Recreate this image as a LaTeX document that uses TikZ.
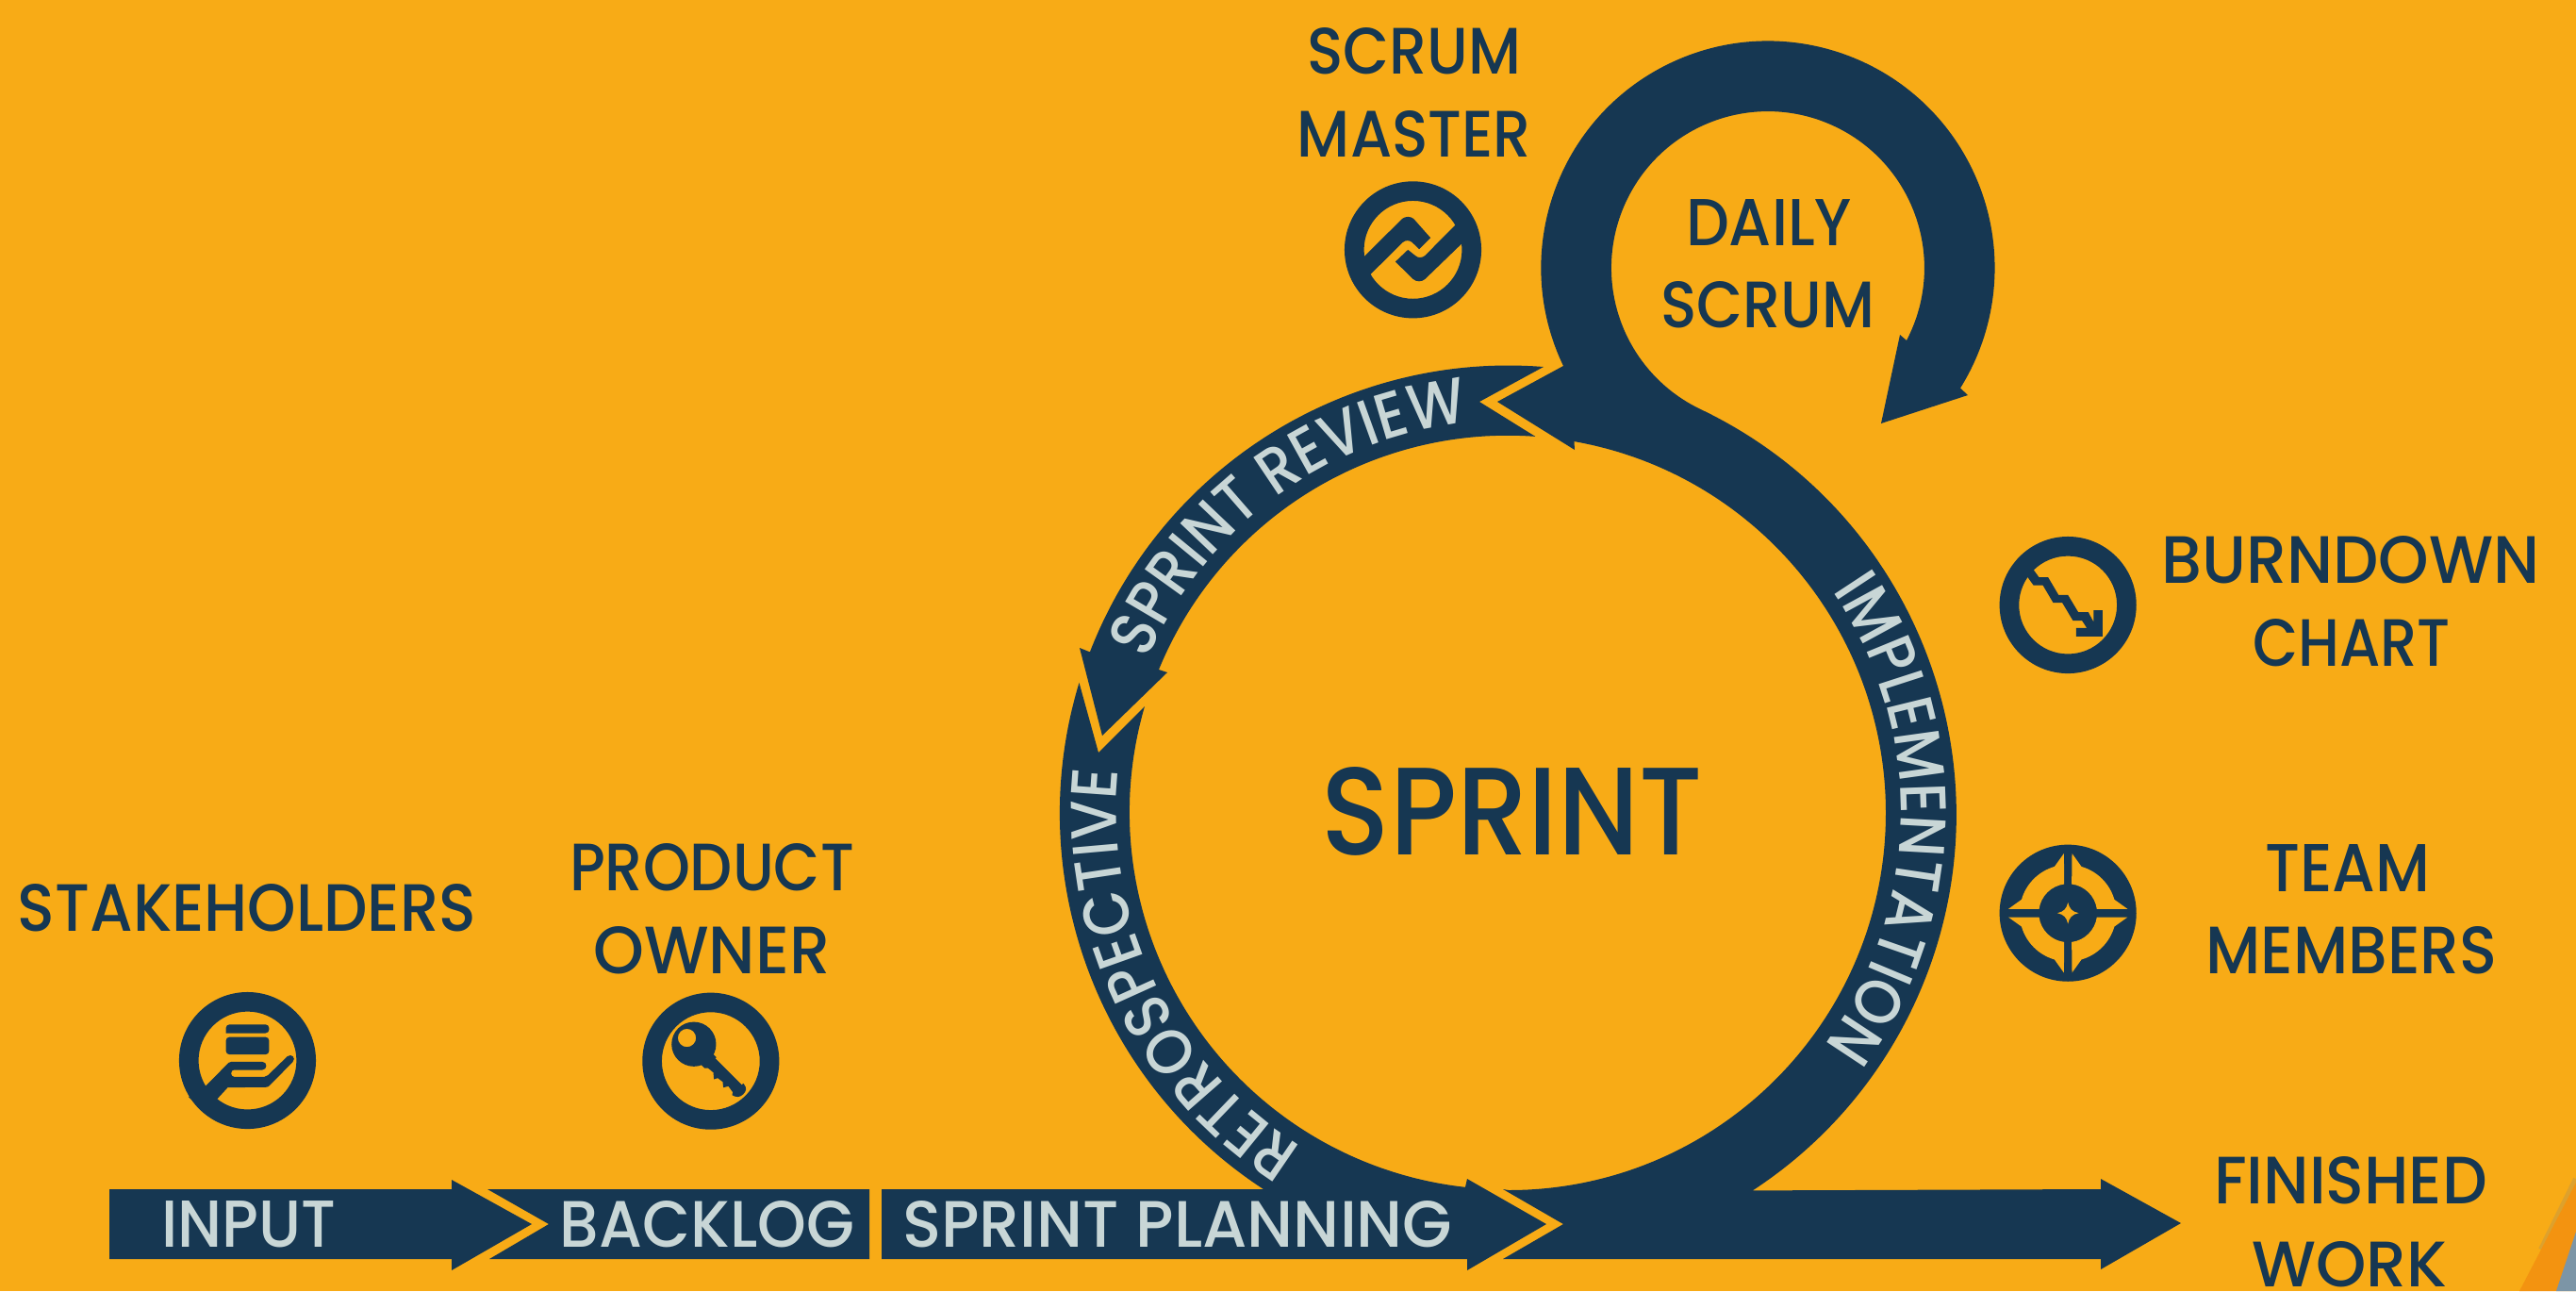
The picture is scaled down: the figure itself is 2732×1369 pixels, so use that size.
\documentclass[tikz,border=0pt]{standalone}
\usepackage{graphicx}
\usepackage{fontspec}
\setmainfont{Poppins Medium}
\newfontfamily\arcfont[FakeStretch=0.89]{Poppins Medium}
\usetikzlibrary{decorations.text}
\definecolor{bgorange}{HTML}{F8AB16}
\definecolor{darkorange}{HTML}{F39310}
\definecolor{navy}{HTML}{163752}
\definecolor{pale}{HTML}{C8D6D6}
\definecolor{slate}{HTML}{7C95A6}
\newcommand{\fit}[3]{\resizebox{#1\dimexpr0.01cm\relax}{#2\dimexpr0.01cm\relax}{#3}}
\tikzset{
  lab/.style={inner sep=0pt,outer sep=0pt,text=navy},
  barlab/.style={inner sep=0pt,outer sep=0pt,text=pale},
  band/.style={fill=navy,draw=none},
  zoomed/.style={shift={(#1)},x=0.0033333cm,y=-0.0033333cm},
  icon/.style={fill=navy,draw=none},
  cut/.style={fill=bgorange,draw=none},
  arclabel/.style={decorate,decoration={text along path,text align=center,
     text={|\arcfont\fontsize{19.5}{22}\selectfont\color{pale}|#1}}}
}
\begin{document}
\begin{tikzpicture}[x=0.01cm,y=-0.01cm]
\useasboundingbox (0,0) rectangle (2732,1369);
\fill[bgorange] (0,0) rectangle (2732,1369);
% corner
\draw[gray,opacity=0.22,line width=0.06cm] (2732,1250) -- (2695,1325);
\fill[darkorange] (2732,1254) -- (2672,1369) -- (2732,1369) -- cycle;
\fill[slate] (2732,1306) -- (2711,1369) -- (2732,1369) -- cycle;
% coordinates of the sprint circle and the daily loop
\coordinate (c) at (1600,862);
\coordinate (d) at (1875,284);
% input
\fill[band] (116,1261) -- (479,1261) -- (479,1251) -- (564,1298) -- (479,1347) -- (479,1335) -- (116,1335) -- cycle;
% backlog
\fill[band] (517,1261) -- (922,1261) -- (922,1335) -- (519,1335) -- (582,1298) -- cycle;
% sprint planning + retrospective
\fill[band] (935,1261) -- (1340,1261) arc[start angle=123.1,end angle=196.9,radius=476]
  -- (1165,798) -- (1214,749) arc[start angle=196.3,end angle=96.3,radius=400]
  -- (1556,1250) -- (1640,1298) -- (1556,1347) -- (1556,1335) -- (935,1335) -- cycle;
% sprint review
\fill[band] (1637,389) arc[start angle=-85.5,end angle=-158.8,radius=476]
  -- (1145,687) -- (1169,780) -- (1238,713) -- (1229,710)
  arc[start angle=-157.7,end angle=-85.8,radius=400] -- (1569,426) -- cycle;
% implementation, daily scrum loop, output
\fill[band] (1600,1262) arc[start angle=90,end angle=-80,radius=400]
  -- (1670,477) -- (1588,426) -- (1658,388)
  arc[start angle=154.4,end angle=392,radius=240.6]
  -- (2087,419) -- (1995,449) -- (2015,355) -- (2022,361)
  arc[start angle=27.6,end angle=-244.6,radius=166]
  arc[start angle=-64.5,end angle=56.9,radius=476]
  -- (2228,1261) -- (2228,1250) -- (2313,1297) -- (2228,1346) -- (2228,1335)
  -- (1594,1335) -- (1658,1298) -- (1594,1261) -- cycle;
% curved labels
\path[arclabel={SPRINT REVIEW}] (c) ++(-160:416) arc[start angle=-160,end angle=-93,radius=416];
\path[arclabel={RETROSPECTIVE}] (c) ++(120:416) arc[start angle=120,end angle=188,radius=416];
\path[arclabel={IMPLEMENTATION}] (c) ++(-39:416) arc[start angle=-39,end angle=41,radius=416];
% bar labels
\node[barlab] (input) at (264,1298) {\fit{185}{49}{INPUT}};
\node[barlab] (backlog) at (750,1298) {\fit{312}{49}{BACKLOG}};
\node[barlab] (planning) at (1249,1298) {\fit{583}{49}{SPRINT PLANNING}};
% plain labels
\node[lab] (sprint) at (1604,860) {\fit{404}{93}{SPRINT}};
\node[lab] (scrum1) at (1500,54) {\fit{227}{49}{SCRUM}};
\node[lab] (master) at (1500,142) {\fit{248}{49}{MASTER}};
\node[lab] (daily) at (1876,236) {\fit{176}{49}{DAILY}};
\node[lab] (scrum2) at (1875,323) {\fit{227}{49}{SCRUM}};
\node[lab] (burn) at (2493,594) {\fit{401}{50}{BURNDOWN}};
\node[lab] (chart) at (2494,682) {\fit{210}{50}{CHART}};
\node[lab] (team) at (2490,920) {\fit{175}{50}{TEAM}};
\node[lab] (members) at (2494,1008) {\fit{309}{50}{MEMBERS}};
\node[lab] (finished) at (2493,1252) {\fit{290}{50}{FINISHED}};
\node[lab] (work) at (2492,1341) {\fit{207}{48}{WORK}};
\node[lab] (stake) at (262,963) {\fit{486}{50}{STAKEHOLDERS}};
\node[lab] (product) at (755,920) {\fit{302}{50}{PRODUCT}};
\node[lab] (owner) at (755,1008) {\fit{251}{50}{OWNER}};
% stakeholders icon
\begin{scope}[zoomed={150,1030}]
  \fill[icon,even odd rule] (338,284) circle[radius=218] (338,284) circle[radius=156];
  \fill[icon,rounded corners=0.04cm] (269,197) -- (269,169) -- (407,169) -- (407,197) [sharp corners] -- cycle;
  \fill[icon,rounded corners=0.04cm] (269,209) -- (407,209) -- (407,265) -- (269,265) -- cycle;
  \fill[icon] (205,365) -- (278,291) .. controls (281,288) and (283,288) .. (287,288)
    -- (385,288) .. controls (402,288) and (402,314) .. (385,314)
    -- (295,314) .. controls (283,314) and (283,336) .. (295,336)
    -- (392,336) .. controls (397,336) and (400,334) .. (403,331)
    -- (465,271) .. controls (478,260) and (494,276) .. (482,289)
    -- (410,362) .. controls (406,367) and (402,369) .. (396,369)
    -- (275,370) -- (243,405) -- (205,450) -- (150,400) -- cycle;
\end{scope}
% product owner icon
\begin{scope}[zoomed={650,1030}]
  \fill[icon,even odd rule] (312,286) circle[radius=218] (312,286) circle[radius=156];
  \fill[icon,even odd rule] (258,232) circle[radius=71] (236,212) circle[radius=29];
  \fill[icon] (318,262) -- (418,360) .. controls (428,372) and (425,382) .. (415,392)
    .. controls (405,402) and (392,402) .. (380,394) -- (382,385) -- (368,366) -- (352,370)
    -- (350,352) -- (334,340) -- (322,344) -- (320,322) -- (303,308) -- (292,308) -- (280,296) -- cycle;
  \fill[cut] (332,272) -- (416,356) -- (411,361) -- (327,277) -- cycle;
\end{scope}
% scrum master icon
\begin{scope}[zoomed={1400,170}]
  \fill[icon,even odd rule] (296,285) circle[radius=218] (296,285) circle[radius=156];
  \fill[icon] (142,305) -- (262,186) .. controls (272,178) and (288,178) .. (298,186)
    -- (352,247) -- (316,283) -- (293,261) .. controls (285,254) and (272,254) .. (264,261)
    -- (162,362) -- (110,390) -- (100,320) -- cycle;
  \fill[icon] (430,207) -- (335,303) .. controls (327,311) and (312,312) .. (304,304)
    -- (280,285) -- (240,323) -- (296,378) .. controls (306,388) and (325,388) .. (335,378)
    -- (452,265) -- (490,250) -- (470,180) -- cycle;
\end{scope}
% burndown icon
\begin{scope}[zoomed={2100,550}]
  \fill[icon,even odd rule] (280,275) circle[radius=218] (280,275) circle[radius=156];
  \fill[icon] (172,165) -- (188,187) -- (217,187) -- (250,243) -- (280,243) -- (313,298)
    -- (345,298) -- (362,330) -- (362,292) -- (390,292) -- (390,375) -- (306,375) -- (306,348)
    -- (340,348) -- (325,325) -- (296,325) -- (262,268) -- (233,268) -- (200,212) -- (170,212)
    -- (152,187) -- (130,150) -- (160,135) -- cycle;
\end{scope}
% team members icon
\begin{scope}[zoomed={2100,880}]
  \fill[icon] (280,265) circle[radius=218];
  \foreach \sx/\sy in {1/1,-1/1,1/-1,-1/-1}{
    \begin{scope}[shift={(280,265)},xscale=\sx,yscale=\sy]
      \fill[cut] (13,-190) -- (43,-148) arc[start angle=-73.8,end angle=-16.2,radius=154]
        -- (190,-13) -- (92,-13) arc[start angle=-8,end angle=-82.6,radius=93] -- cycle;
    \end{scope}
  }
  \fill[cut] (280,231) .. controls (284,250) and (293,261) .. (314,265)
    .. controls (293,269) and (284,280) .. (280,299)
    .. controls (276,280) and (267,269) .. (246,265)
    .. controls (267,261) and (276,250) .. (280,231) -- cycle;
\end{scope}
\end{tikzpicture}
\end{document}
